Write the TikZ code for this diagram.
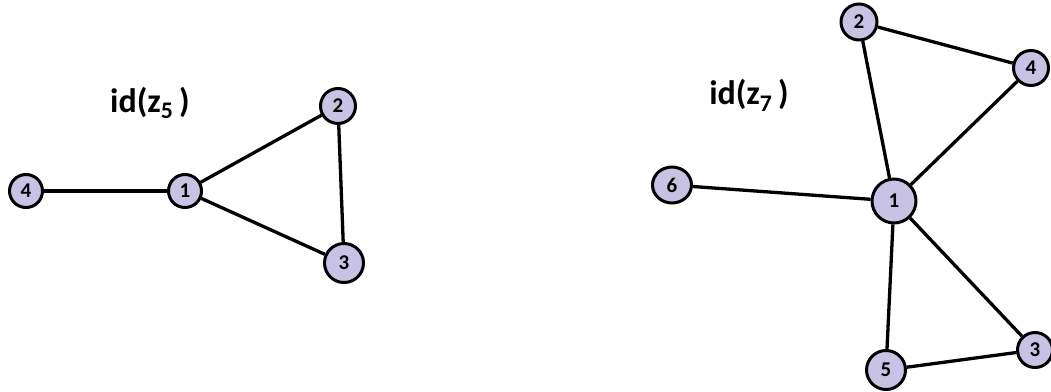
\documentclass[tikz,border=0pt]{standalone}
\usepackage{fontspec}
\usetikzlibrary{shapes.geometric}
\setmainfont{Carlito}
\definecolor{nodefill}{RGB}{200,194,228}
\tikzset{
  vtx/.style={circle, draw=black, line width=3pt, fill=nodefill, inner sep=0pt,
    font=\fontsize{21}{23}\selectfont\bfseries},
  edge/.style={line width=3.3pt, black},
  ttl/.style={font=\fontsize{34}{38}\selectfont\bfseries, inner sep=0pt}
}
\begin{document}
\begin{tikzpicture}[x=1pt,y=-1pt]
\useasboundingbox (0,0) rectangle (1051,391);
% left graph
\node[ttl] (t1) at (150,103) {id(z\textsubscript{5}\,)};
\node[vtx, minimum size=33pt] (L4) at (26,191) {4};
\node[vtx, minimum size=33pt] (L1) at (185,191) {1};
\node[vtx, minimum size=35pt] (L2) at (338,106) {2};
\node[vtx, minimum size=39pt] (L3) at (344,263) {3};
\draw[edge] (L4) -- (L1);
\draw[edge] (L1) -- (L2);
\draw[edge] (L1) -- (L3);
\draw[edge] (L2) -- (L3);
% right graph
\node[ttl] (t2) at (749,95) {id(z\textsubscript{7}\,)};
\node[vtx, minimum size=36pt] (R2) at (859,22) {2};
\node[vtx, minimum size=35pt] (R4) at (1031,68) {4};
\node[vtx, ellipse, minimum width=39pt, minimum height=36pt] (R6) at (672,185) {6};
\node[vtx, minimum size=44pt] (R1) at (894,201) {1};
\node[vtx, minimum size=39pt] (R5) at (886,370) {5};
\node[vtx, minimum size=35pt] (R3) at (1035,350) {3};
\draw[edge] (R2) -- (R4);
\draw[edge] (R2) -- (R1);
\draw[edge] (R4) -- (R1);
\draw[edge] (R6) -- (R1);
\draw[edge] (R1) -- (R5);
\draw[edge] (R1) -- (R3);
\draw[edge] (R5) -- (R3);
\end{tikzpicture}
\end{document}
